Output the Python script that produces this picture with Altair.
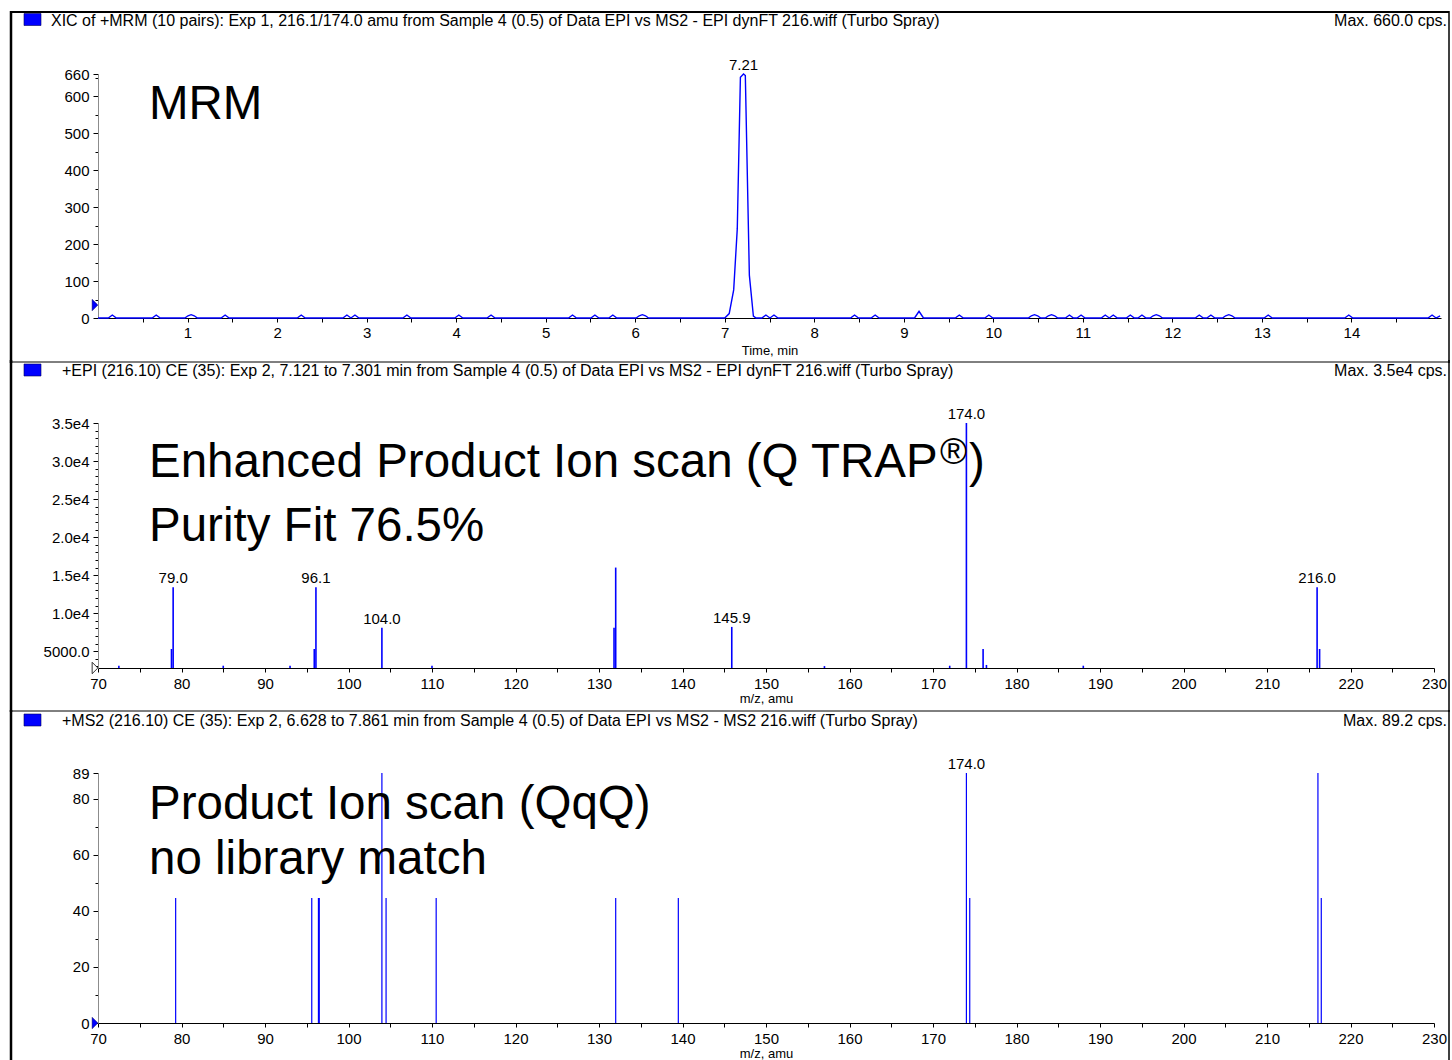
import altair as alt
import pandas as pd

FONT = "Liberation Sans"
BLUE = "#0000ff"
INK = "#000000"
TRI = "M-0.5,-1L0.5,0L-0.5,1Z"  # narrow right-pointing marker

# Panel geometry in pixels, measured from the top-left of each plot area
W_TIME, W_MZ = 1343, 1336
H_MRM, H_EPI, H_MS2 = 244, 245, 250
GAP = 105
FRAME_L, FRAME_R = -87, 1351
PANEL_T, PANEL_B = -62, 288

# XIC of the 216.1/174.0 transition: trace vertices (min, cps)
mrm_time = [
    0.00, 0.115, 0.16, 0.205, 0.605, 0.65, 0.695, 0.97, 1.005, 1.04, 1.075, 1.11,
    1.375, 1.42, 1.465, 2.225, 2.27, 2.315, 2.735, 2.78, 2.825, 2.87, 2.915,
    3.405, 3.45, 3.495, 3.985, 4.03, 4.075, 4.345, 4.39, 4.435, 5.255, 5.30, 5.345,
    5.505, 5.55, 5.595, 5.705, 5.75, 5.795, 6.01, 6.045, 6.08, 6.115, 6.15,
    7.00, 7.05, 7.10, 7.14, 7.175, 7.21, 7.23, 7.275, 7.32, 7.35,
    7.415, 7.46, 7.505, 7.55, 7.595, 8.405, 8.45, 8.495, 8.635, 8.68, 8.725,
    9.12, 9.17, 9.22, 9.575, 9.62, 9.665, 9.905, 9.95, 9.995,
    10.39, 10.425, 10.46, 10.495, 10.53, 10.58, 10.615, 10.65, 10.685, 10.72,
    10.805, 10.85, 10.895, 10.935, 10.98, 11.025, 11.205, 11.25, 11.295, 11.34, 11.385,
    11.485, 11.53, 11.575, 11.615, 11.66, 11.705, 11.75, 11.785, 11.82, 11.855, 11.89,
    12.255, 12.30, 12.345, 12.385, 12.43, 12.475, 12.56, 12.595, 12.63, 12.665, 12.70,
    13.025, 13.07, 13.115, 13.925, 13.97, 14.015, 14.855, 14.90, 14.945, 14.99,
]
mrm_cps = [
    0, 0, 8, 0, 0, 8, 0, 0, 6, 9, 6, 0,
    0, 8, 0, 0, 8, 0, 0, 8, 0, 8, 0,
    0, 8, 0, 0, 8, 0, 0, 8, 0, 0, 8, 0,
    0, 8, 0, 0, 8, 0, 0, 6, 9, 6, 0,
    0, 12, 76, 241, 651, 660, 656, 116, 5, 0,
    0, 8, 0, 8, 0, 0, 8, 0, 0, 8, 0,
    0, 18, 0, 0, 8, 0, 0, 8, 0,
    0, 6, 9, 6, 0, 0, 6, 9, 6, 0,
    0, 8, 0, 0, 8, 0, 0, 8, 0, 8, 0,
    0, 8, 0, 0, 8, 0, 0, 6, 9, 6, 0,
    0, 8, 0, 0, 8, 0, 0, 6, 9, 6, 0,
    0, 8, 0, 0, 8, 0, 0, 8, 0, 6,
]

# Enhanced product-ion (EPI) spectrum (m/z, cps)
epi_mz = [72.5, 78.8, 79.0, 85.0, 93.0, 95.9, 96.1, 104.0, 110.0, 131.8, 132.0,
          145.9, 157.0, 172.0, 174.0, 176.0, 176.4, 188.0, 216.0, 216.3]
epi_cps = [3100, 5300, 13400, 3100, 3100, 5300, 13400, 8100, 3100, 8100, 16000,
           8200, 3050, 3100, 35000, 5300, 3200, 3100, 13400, 5300]
epi_labelled = [79.0, 96.1, 104.0, 145.9, 174.0, 216.0]

# Product-ion (MS2) spectrum on the triple quad (m/z, cps)
ms2_mz = [79.3, 95.6, 96.4, 96.5, 104.0, 104.5, 110.5, 132.0, 139.5,
          174.0, 174.4, 216.1, 216.5]
ms2_cps = [44.6, 44.6, 44.6, 44.6, 89.2, 44.6, 44.6, 44.6, 44.6,
           89.2, 44.6, 89.2, 44.6]
ms2_labelled = [174.0]

# Axis ticks
time_ticks = [0.5, 1, 1.5, 2, 2.5, 3, 3.5, 4, 4.5, 5, 5.5, 6, 6.5, 7, 7.5, 8,
              8.5, 9, 9.5, 10, 10.5, 11, 11.5, 12, 12.5, 13, 13.5, 14, 14.5]
mz_ticks = list(range(70, 231, 5))
mrm_y_ticks = [0, 50, 100, 150, 200, 250, 300, 350, 400, 450, 500, 550, 600, 650, 660]
epi_y_ticks = list(range(3000, 35001, 1000))
ms2_y_ticks = [0, 10, 20, 30, 40, 50, 60, 70, 80, 89.2]

headers = [
    ("XIC of +MRM (10 pairs): Exp 1, 216.1/174.0 amu from Sample 4 (0.5) of Data EPI vs MS2 - EPI dynFT 216.wiff (Turbo Spray)",
     "Max. 660.0 cps."),
    ("+EPI (216.10) CE (35): Exp 2, 7.121 to 7.301 min from Sample 4 (0.5) of Data EPI vs MS2 - EPI dynFT 216.wiff (Turbo Spray)",
     "Max. 3.5e4 cps."),
    ("+MS2 (216.10) CE (35): Exp 2, 6.628 to 7.861 min from Sample 4 (0.5) of Data EPI vs MS2 - MS2 216.wiff (Turbo Spray)",
     "Max. 89.2 cps."),
]

one = pd.DataFrame({"k": [0]})


def frame_layers(top_edge, bottom_edge):
    base = alt.Chart(one)
    layers = [
        base.mark_rule(color=INK, strokeWidth=2.5).encode(
            x=alt.value(FRAME_L), y=alt.value(PANEL_T - 1), y2=alt.value(PANEL_B + 1)),
        base.mark_rule(color=INK, strokeWidth=1.5).encode(
            x=alt.value(FRAME_R), y=alt.value(PANEL_T - 1), y2=alt.value(PANEL_B + 1)),
    ]
    if top_edge:
        layers.append(base.mark_rule(color=INK, strokeWidth=2).encode(
            x=alt.value(FRAME_L), x2=alt.value(FRAME_R), y=alt.value(PANEL_T)))
    if bottom_edge:
        layers.append(base.mark_rule(color=INK, strokeWidth=1).encode(
            x=alt.value(FRAME_L), x2=alt.value(FRAME_R), y=alt.value(PANEL_B)))
    return layers


def header_layers(text_x, title, max_text, shift=0):
    base = alt.Chart(one)
    return [
        base.mark_rect(fill=BLUE, stroke="#00005a", strokeWidth=0.6).encode(
            x=alt.value(-74), x2=alt.value(-57),
            y=alt.value(-59 + shift), y2=alt.value(-47 + shift)),
        base.mark_text(align="left", baseline="middle", font=FONT, fontSize=16, color=INK).encode(
            x=alt.value(text_x), y=alt.value(-52 + shift), text=alt.value(title)),
        base.mark_text(align="right", baseline="middle", font=FONT, fontSize=16, color=INK).encode(
            x=alt.value(FRAME_R - 2), y=alt.value(-52 + shift), text=alt.value(max_text)),
    ]


def caption(text, x, y, size=47.5):
    return alt.Chart(one).mark_text(
        align="left", baseline="alphabetic", font=FONT, fontSize=size, color=INK
    ).encode(x=alt.value(x), y=alt.value(y), text=alt.value(text))


def y_axis(values, label_expr, major_test):
    return alt.Axis(
        title=None, values=values, tickCount=200, labelExpr=label_expr, labelOverlap=False,
        tickSize={"condition": {"test": major_test, "value": 5}, "value": 3},
        labelPadding=4, domainColor="#8c8c8c",
    )


def mz_axis():
    return alt.Axis(
        title="m/z, amu", values=mz_ticks, tickCount=200, labelOverlap=False,
        labelExpr="datum.value % 10 === 0 ? format(datum.value, 'd') : ''",
        tickSize=4, labelPadding=4, titlePadding=1,
    )


# ---- panel 1: MRM chromatogram ----
mrm_df = pd.DataFrame({"t": mrm_time, "cps": mrm_cps})
apex_df = mrm_df.loc[[mrm_df["cps"].idxmax()]]

x_time = alt.X("t:Q", scale=alt.Scale(domain=[0, 15], nice=False, zero=False),
               axis=alt.Axis(title="Time, min", values=time_ticks, tickCount=200, labelOverlap=False,
                             labelExpr="datum.value % 1 === 0 ? format(datum.value, 'd') : ''",
                             tickSize=4, labelPadding=3, titlePadding=4))
y_mrm = alt.Y("cps:Q", scale=alt.Scale(domain=[0, 660], nice=False, zero=False),
              axis=y_axis(mrm_y_ticks,
                          "datum.value % 100 === 0 || datum.value === 660 ? format(datum.value, 'd') : ''",
                          "datum.value % 100 === 0 || datum.value === 660"))

trace = alt.Chart(mrm_df).mark_line(color=BLUE, strokeWidth=1.4).encode(x=x_time, y=y_mrm)
apex = alt.Chart(apex_df).mark_text(
    font=FONT, fontSize=15, color=INK, baseline="alphabetic", dy=-4
).encode(x="t:Q", y="cps:Q", text=alt.Text("t:Q", format=".2f"))
mrm_marker = alt.Chart(one).mark_point(
    shape=TRI, filled=True, fill=BLUE, stroke="#00005a", strokeWidth=0.5, size=130, opacity=1
).encode(x=alt.value(-3), y=alt.datum(35))

p1 = alt.layer(
    trace, apex, mrm_marker,
    *frame_layers(True, True),
    *header_layers(-47, *headers[0], shift=-1.5),
    caption("MRM", 51, 45),
).properties(width=W_TIME, height=H_MRM)

# ---- panel 2: EPI spectrum ----
epi_df = pd.DataFrame({"mz": epi_mz, "cps": epi_cps})
epi_lab = epi_df[epi_df["mz"].isin(epi_labelled)]

x_mz = alt.X("mz:Q", scale=alt.Scale(domain=[70, 230], nice=False, zero=False), axis=mz_axis())
y_epi = alt.Y("cps:Q", scale=alt.Scale(domain=[2800, 35000], nice=False, zero=False),
              axis=y_axis(epi_y_ticks,
                          "datum.value % 5000 !== 0 ? '' : (datum.value === 5000 ? '5000.0' : format(datum.value / 10000, '.1f') + 'e4')",
                          "datum.value % 5000 === 0"))

epi_sticks = alt.Chart(epi_df).mark_rule(color=BLUE, strokeWidth=1.6).encode(
    x=x_mz, y=y_epi, y2=alt.datum(2800))
epi_text = alt.Chart(epi_lab).mark_text(
    font=FONT, fontSize=15, color=INK, baseline="alphabetic", dy=-4
).encode(x="mz:Q", y="cps:Q", text=alt.Text("mz:Q", format=".1f"))
epi_marker = alt.Chart(one).mark_point(
    shape=TRI, filled=True, fill="#ffffff", stroke=INK, strokeWidth=0.8, size=130, opacity=1
).encode(x=alt.value(-3), y=alt.datum(2800))

p2 = alt.layer(
    epi_sticks, epi_text, epi_marker,
    *frame_layers(False, True),
    *header_layers(-36, *headers[1]),
    caption("Enhanced Product Ion scan (Q TRAP", 51, 54),
    caption("\u00ae", 842, 41, size=37),
    caption(")", 871, 54),
    caption("Purity Fit 76.5%", 51, 118),
).properties(width=W_MZ, height=H_EPI)

# ---- panel 3: MS2 spectrum ----
ms2_df = pd.DataFrame({"mz": ms2_mz, "cps": ms2_cps})
ms2_lab = ms2_df[ms2_df["mz"].isin(ms2_labelled)]

y_ms2 = alt.Y("cps:Q", scale=alt.Scale(domain=[0, 89.2], nice=False, zero=False),
              axis=y_axis(ms2_y_ticks,
                          "datum.value === 89.2 ? '89' : (datum.value % 20 === 0 ? format(datum.value, 'd') : '')",
                          "datum.value % 20 === 0 || datum.value === 89.2"))

ms2_sticks = alt.Chart(ms2_df).mark_rule(color=BLUE, strokeWidth=1.2).encode(
    x=x_mz, y=y_ms2, y2=alt.datum(0))
ms2_text = alt.Chart(ms2_lab).mark_text(
    font=FONT, fontSize=15, color=INK, baseline="alphabetic", dy=-4
).encode(x="mz:Q", y="cps:Q", text=alt.Text("mz:Q", format=".1f"))
ms2_marker = alt.Chart(one).mark_point(
    shape=TRI, filled=True, fill=BLUE, stroke="#00005a", strokeWidth=0.5, size=130, opacity=1
).encode(x=alt.value(-3), y=alt.datum(0))

p3 = alt.layer(
    ms2_sticks, ms2_text, ms2_marker,
    *frame_layers(False, False),
    *header_layers(-36, *headers[2]),
    caption("Product Ion scan (QqQ)", 51, 46),
    caption("no library match", 51, 101),
).properties(width=W_MZ, height=H_MS2)

chart = alt.vconcat(p1, p2, p3, spacing=GAP, bounds="flush").properties(
    padding={"left": 9, "top": 9, "right": 0, "bottom": 0}
).configure_view(stroke=None).configure_axis(
    labelFont=FONT, labelFontSize=15, labelColor=INK,
    titleFont=FONT, titleFontSize=13, titleFontWeight="normal", titleColor=INK,
    domainColor=INK, tickColor=INK, grid=False, labelFlush=False, labelOverlap=False,
)

chart.save("out.html", embed_options={"renderer": "svg", "actions": False})
